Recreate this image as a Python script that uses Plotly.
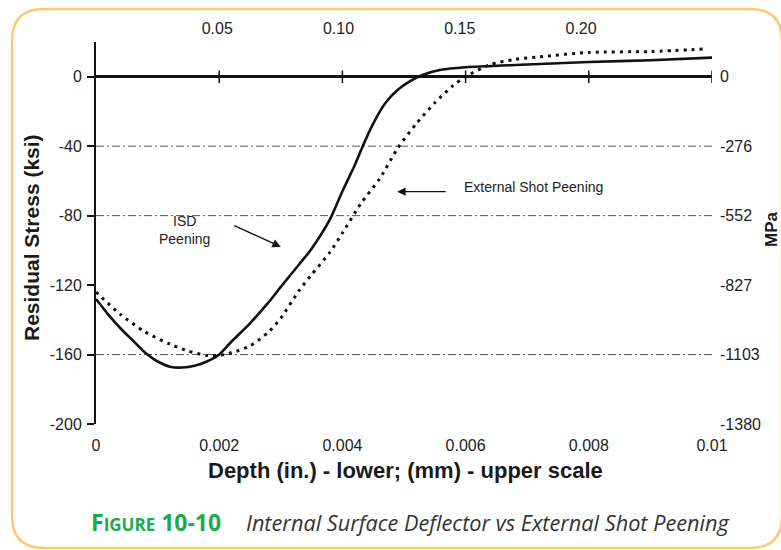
import plotly.graph_objects as go

# ---------------- data ----------------
isd_depth_in = [0, 0.0002, 0.0004, 0.0006, 0.0008, 0.001, 0.0012, 0.0014, 0.0016, 0.0018,
                0.002, 0.0022, 0.0025, 0.0028, 0.003, 0.0033, 0.0035, 0.0038, 0.004, 0.0042,
                0.00433, 0.0045, 0.0047, 0.0049, 0.0051, 0.0053, 0.0056, 0.006, 0.007, 0.008,
                0.009, 0.01]
isd_stress_ksi = [-128, -137, -145, -152, -159, -164, -167, -167.5, -166.5, -164,
                  -160, -152.5, -142, -130, -121, -108, -99, -82, -66, -51,
                  -40, -27, -15, -7.5, -2.5, 1, 4, 5.5, 7, 8.5,
                  9.5, 11]

esp_depth_in = [0, 0.0004, 0.0008, 0.0012, 0.0015, 0.0018, 0.002, 0.0022, 0.0025, 0.0028,
                0.003, 0.0033, 0.0035, 0.0038, 0.004, 0.0043, 0.0046, 0.0049, 0.0052, 0.0055,
                0.0058, 0.006, 0.0064, 0.0068, 0.0072, 0.008, 0.009, 0.0099]
esp_stress_ksi = [-124, -137, -147, -154, -158, -160.5, -160.5, -159, -155, -147,
                  -139, -123, -114, -101, -90, -73, -59, -41, -27, -15,
                  -5, 0, 7, 10, 11.5, 14, 14.5, 16]

x_ticks_in = [0, 0.002, 0.004, 0.006, 0.008, 0.01]
x_ticklabels_in = ["0", "0.002", "0.004", "0.006", "0.008", "0.01"]
x_ticks_mm = [0.05, 0.10, 0.15, 0.20]
x_ticklabels_mm = ["0.05", "0.10", "0.15", "0.20"]
y_ticks_ksi = [0, -40, -80, -120, -160, -200]
y_ticklabels_ksi = ["0", "-40", "-80", "-120", "-160", "-200"]
y_ticklabels_mpa = ["0", "-276", "-552", "-827", "-1103", "-1380"]
grid_levels_ksi = [-40, -80, -160]

x_range_in = [0, 0.01]
x_range_mm = [0, 0.254]
y_range_ksi = [-200, 20]

# ---------------- layout helpers ----------------
W, H = 781, 550
ML, MT = 96, 42
PW, PH = 616, 382
MR = W - ML - PW
MB = H - MT - PH


def px(xp):  # page pixel -> paper x
    return (xp - ML) / PW


def py(yp):  # page pixel -> paper y
    return (MT + PH - yp) / PH


FONT = "Liberation Sans, Arial, sans-serif"
CAPFONT = "Open Sans, Noto Sans, sans-serif"

fig = go.Figure()

fig.add_trace(go.Scatter(x=isd_depth_in, y=isd_stress_ksi, mode="lines",
                         line=dict(color="#111", width=2.6, shape="spline", smoothing=0.7),
                         showlegend=False, hoverinfo="skip"))
fig.add_trace(go.Scatter(x=esp_depth_in, y=esp_stress_ksi, mode="lines",
                         line=dict(color="#111", width=3, dash="3px,5px", shape="spline", smoothing=0.7),
                         showlegend=False, hoverinfo="skip"))
# tick marks on the zero line
fig.add_trace(go.Scatter(x=x_ticks_in[1:], y=[0] * (len(x_ticks_in) - 1), mode="markers",
                         marker=dict(symbol="line-ns", size=9, line=dict(color="#111", width=1.5)),
                         showlegend=False, hoverinfo="skip"))
# dummy traces for secondary axes
fig.add_trace(go.Scatter(x=x_range_mm, y=[None, None], xaxis="x2", yaxis="y",
                         showlegend=False, hoverinfo="skip"))
fig.add_trace(go.Scatter(x=x_range_in, y=[None, None], xaxis="x", yaxis="y2",
                         showlegend=False, hoverinfo="skip"))

tickfont = dict(family=FONT, size=16, color="#222")

fig.update_layout(
    width=W, height=H,
    margin=dict(l=ML, r=MR, t=MT, b=MB, autoexpand=False),
    paper_bgcolor="white", plot_bgcolor="white",
    showlegend=False,
    xaxis=dict(range=x_range_in, tickvals=x_ticks_in, ticktext=x_ticklabels_in,
               showline=False, showgrid=False, zeroline=False, ticks="",
               tickfont=tickfont, ticklabelstandoff=10),
    xaxis2=dict(range=x_range_mm, overlaying="x", side="top", tickvals=x_ticks_mm,
                ticktext=x_ticklabels_mm, showline=False, showgrid=False, zeroline=False,
                ticks="", tickfont=tickfont, ticklabelstandoff=4),
    yaxis=dict(range=y_range_ksi, tickvals=y_ticks_ksi, ticktext=y_ticklabels_ksi,
               showline=True, linecolor="#111", linewidth=2, ticks="outside", ticklen=7,
               tickwidth=2, tickcolor="#111", mirror=False, showgrid=False,
               zeroline=True, zerolinecolor="#111", zerolinewidth=2.5,
               tickfont=tickfont, ticklabelstandoff=2),
    yaxis2=dict(range=y_range_ksi, overlaying="y", side="right", tickvals=y_ticks_ksi,
                ticktext=y_ticklabels_mpa, showline=False, showgrid=False, zeroline=False,
                ticks="", tickfont=tickfont, ticklabelstandoff=7),
)

for lvl in grid_levels_ksi:
    fig.add_shape(type="line", xref="paper", yref="y", x0=0, x1=1, y0=lvl, y1=lvl,
                  line=dict(color="#555", width=1, dash="8px,3px,2px,3px"), layer="below")

ann_font = dict(family=FONT, size=14, color="#222")
annotations = [
    dict(x=0.00144, y=-88.5, xref="x", yref="y", text="ISD<br>Peening", showarrow=False,
         font=ann_font, align="center"),
    dict(x=0.003, y=-98, ax=0.00222, ay=-85.3, xref="x", yref="y", axref="x", ayref="y",
         text="", showarrow=True, arrowhead=2, arrowsize=1.2, arrowwidth=1.4, arrowcolor="#111"),
    dict(x=0.00594, y=-63.5, xref="x", yref="y", text="External Shot Peening", showarrow=False,
         xanchor="left", font=ann_font),
    dict(x=0.00489, y=-66.2, ax=0.0057, ay=-66.2, xref="x", yref="y", axref="x", ayref="y",
         text="", showarrow=True, arrowhead=2, arrowsize=1.2, arrowwidth=1.4, arrowcolor="#111"),
    dict(x=px(31), y=py(238), xref="paper", yref="paper", xanchor="center", yanchor="middle",
         text="<b>Residual Stress (ksi)</b>", textangle=-90, showarrow=False,
         font=dict(family=FONT, size=21, color="#1a1a1a")),
    dict(x=px(405), y=py(470), xref="paper", yref="paper", xanchor="center", yanchor="middle",
         text="<b>Depth (in.) - lower; (mm) - upper scale</b>", showarrow=False,
         font=dict(family=FONT, size=22, color="#1a1a1a")),
    dict(x=px(771), y=py(229), xref="paper", yref="paper", xanchor="center", yanchor="middle",
         text="<b>MPa</b>", textangle=-90, showarrow=False,
         font=dict(family=FONT, size=17, color="#1a1a1a")),
    dict(x=px(89), y=py(522), xref="paper", yref="paper", xanchor="left", yanchor="middle",
         text="<b>F<span style='font-size:17px'>IGURE</span> 10-10</b>", showarrow=False,
         font=dict(family=CAPFONT, size=23, color="#1aab4c")),
    dict(x=px(244), y=py(522), xref="paper", yref="paper", xanchor="left", yanchor="middle",
         text="<i>Internal Surface Deflector vs External Shot Peening</i>", showarrow=False,
         font=dict(family=CAPFONT, size=21.7, color="#333")),
]
fig.update_layout(annotations=annotations)

# rounded frame
L, R, T, B, rad = 12, 782, 9, 548, 32
rx, ry = rad / PW, rad / PH
xl, xr, yt, yb = px(L), px(R), py(T), py(B)
path = (f"M {xl + rx} {yt} L {xr - rx} {yt} Q {xr} {yt} {xr} {yt - ry} "
        f"L {xr} {yb + ry} Q {xr} {yb} {xr - rx} {yb} "
        f"L {xl + rx} {yb} Q {xl} {yb} {xl} {yb + ry} "
        f"L {xl} {yt - ry} Q {xl} {yt} {xl + rx} {yt} Z")
fig.add_shape(type="path", path=path, xref="paper", yref="paper",
              line=dict(color="#fdc970", width=2.5), layer="below")

fig.write_html("out.html", config={"displayModeBar": False},
               post_script="document.body.style.margin='0';document.body.style.overflow='hidden';")
